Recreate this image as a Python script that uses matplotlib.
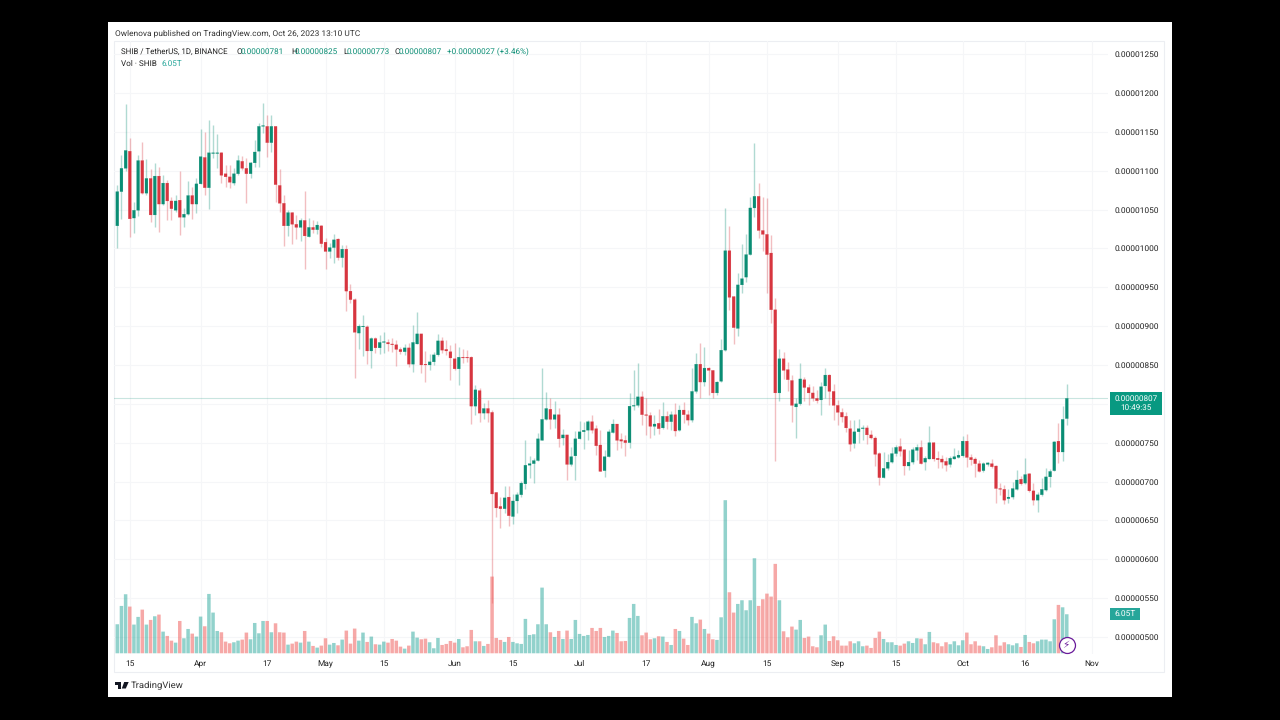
import pandas as pd
import numpy as np
import matplotlib
matplotlib.use("Agg")
import matplotlib.pyplot as plt
from matplotlib.patches import Rectangle, Polygon

plt.rcParams['font.family'] = ['Roboto', 'DejaVu Sans']
plt.rcParams['text.hinting'] = 'none'

# prices are in units of 0.00000001 USDT, volume in T
opens = [
    1029, 1073, 1103, 1125, 1039, 1049, 1113, 1071, 1090, 1043,
    1093, 1057, 1084, 1061, 1049, 1062, 1040, 1044, 1068, 1057,
    1083, 1117, 1078, 1122, 1122, 1123, 1096, 1092, 1084, 1096,
    1112, 1103, 1096, 1110, 1125, 1157, 1157, 1136, 1157, 1081,
    1058, 1029, 1046, 1031, 1027, 1036, 1015, 1027, 1024, 1029,
    1008, 996, 1001, 1012, 988, 999, 945, 934, 891, 899,
    899, 868, 884, 872, 879, 879, 877, 876, 870, 867,
    872, 851, 877, 890, 851, 850, 854, 863, 881, 870,
    867, 858, 845, 860, 860, 860, 797, 817, 788, 794,
    789, 686, 668, 665, 680, 655, 675, 683, 697, 721,
    723, 727, 753, 780, 793, 780, 786, 756, 760, 722,
    733, 755, 764, 766, 777, 768, 747, 714, 732, 763,
    774, 754, 753, 750, 797, 798, 809, 786, 785, 771,
    775, 769, 784, 777, 786, 766, 792, 786, 779, 816,
    851, 828, 846, 843, 814, 829, 869, 997, 938, 897,
    953, 963, 992, 1052, 1067, 1023, 1018, 994, 921, 814,
    858, 844, 830, 796, 800, 831, 821, 814, 807, 805,
    823, 837, 816, 798, 789, 784, 768, 749, 764, 768,
    769, 760, 756, 736, 705, 717, 725, 736, 745, 741,
    720, 725, 740, 744, 725, 729, 750, 730, 729, 726,
    722, 729, 731, 733, 752, 731, 729, 723, 714, 722,
    723, 720, 691, 690, 678, 680, 690, 703, 698, 710,
    688, 676, 683, 689, 706, 714, 752, 738, 781,
]
closes = [
    1073, 1103, 1126, 1038, 1049, 1113, 1071, 1090, 1043, 1093,
    1057, 1084, 1061, 1051, 1061, 1040, 1044, 1068, 1057, 1083,
    1118, 1078, 1123, 1123, 1123, 1094, 1092, 1085, 1096, 1113,
    1103, 1096, 1110, 1124, 1157, 1158, 1136, 1157, 1082, 1058,
    1029, 1046, 1031, 1027, 1036, 1016, 1027, 1024, 1030, 1006,
    996, 1001, 1011, 988, 999, 945, 934, 892, 900, 900,
    868, 884, 872, 879, 880, 877, 876, 870, 867, 872,
    851, 879, 890, 850, 850, 854, 863, 881, 869, 868,
    859, 845, 860, 859, 859, 797, 818, 788, 794, 788,
    684, 666, 665, 679, 656, 675, 683, 698, 721, 723,
    727, 755, 780, 794, 780, 786, 755, 760, 722, 732,
    755, 764, 766, 777, 766, 746, 713, 732, 764, 774,
    753, 752, 750, 797, 798, 809, 786, 785, 771, 774,
    768, 784, 777, 786, 765, 792, 786, 779, 816, 851,
    828, 846, 843, 814, 828, 869, 997, 937, 898, 953,
    961, 992, 1052, 1067, 1023, 1018, 992, 921, 814, 858,
    843, 831, 798, 800, 832, 821, 814, 807, 804, 822,
    837, 816, 798, 789, 783, 769, 748, 764, 768, 769,
    760, 756, 735, 705, 717, 725, 736, 744, 739, 720,
    725, 741, 744, 723, 730, 750, 729, 728, 725, 721,
    730, 732, 734, 752, 731, 728, 723, 713, 723, 724,
    719, 691, 690, 676, 680, 691, 702, 697, 709, 688,
    676, 683, 690, 706, 713, 751, 738, 780, 807,
]
highs = [
    1081, 1120, 1186, 1142, 1060, 1120, 1137, 1115, 1102, 1110,
    1105, 1094, 1088, 1066, 1069, 1099, 1052, 1087, 1079, 1090,
    1154, 1150, 1165, 1159, 1147, 1124, 1107, 1107, 1103, 1120,
    1119, 1116, 1111, 1139, 1161, 1187, 1172, 1172, 1157, 1102,
    1069, 1049, 1047, 1043, 1039, 1074, 1039, 1036, 1035, 1030,
    1013, 1007, 1019, 1013, 1004, 1004, 954, 936, 903, 914,
    901, 886, 886, 888, 892, 883, 885, 882, 873, 877,
    878, 901, 918, 890, 868, 864, 867, 890, 886, 882,
    876, 878, 873, 870, 869, 861, 824, 820, 801, 805,
    792, 687, 680, 694, 694, 684, 687, 701, 754, 733,
    730, 762, 846, 815, 808, 804, 794, 768, 760, 744,
    765, 778, 777, 779, 786, 773, 766, 741, 768, 780,
    774, 762, 760, 814, 844, 853, 817, 808, 790, 786,
    793, 802, 791, 791, 801, 798, 802, 792, 846, 865,
    878, 873, 847, 844, 829, 884, 1052, 1029, 939, 968,
    1005, 1018, 1066, 1135, 1084, 1066, 1065, 1017, 936, 870,
    867, 854, 837, 807, 853, 834, 826, 823, 818, 828,
    846, 838, 825, 805, 794, 790, 779, 779, 780, 773,
    773, 766, 758, 738, 738, 736, 745, 747, 756, 741,
    741, 745, 748, 753, 733, 771, 751, 739, 734, 731,
    733, 743, 741, 759, 761, 735, 731, 728, 725, 725,
    729, 721, 698, 696, 691, 700, 715, 707, 730, 711,
    698, 687, 704, 718, 716, 752, 775, 797, 825,
]
lows = [
    1001, 1038, 1100, 1015, 1020, 1041, 1070, 1069, 1034, 1028,
    1021, 1056, 1036, 1036, 1047, 1017, 1027, 1043, 1038, 1045,
    1083, 1069, 1051, 1116, 1103, 1084, 1079, 1078, 1081, 1094,
    1101, 1058, 1090, 1105, 1105, 1148, 1118, 1124, 1060, 1047,
    1003, 1016, 1006, 1012, 1009, 973, 1014, 1020, 1018, 1002,
    974, 987, 981, 985, 976, 919, 930, 833, 871, 861,
    851, 846, 866, 864, 865, 868, 867, 849, 864, 863,
    848, 841, 877, 839, 828, 843, 850, 861, 866, 863,
    831, 843, 824, 852, 854, 774, 786, 776, 781, 777,
    544, 654, 640, 659, 643, 646, 660, 680, 691, 704,
    698, 726, 753, 779, 767, 769, 744, 747, 702, 720,
    702, 755, 742, 753, 762, 734, 713, 706, 731, 762,
    740, 743, 733, 743, 792, 796, 773, 760, 756, 760,
    761, 768, 767, 766, 758, 765, 775, 773, 777, 814,
    808, 823, 811, 808, 811, 828, 868, 921, 877, 887,
    942, 957, 991, 1040, 1013, 997, 943, 904, 726, 804,
    832, 816, 776, 756, 798, 803, 798, 803, 801, 786,
    807, 798, 779, 773, 776, 764, 739, 743, 750, 754,
    748, 755, 720, 696, 704, 715, 724, 733, 733, 709,
    715, 723, 728, 723, 715, 729, 726, 717, 717, 713,
    719, 729, 730, 732, 719, 721, 706, 712, 712, 720,
    717, 673, 683, 671, 673, 678, 689, 696, 697, 687,
    670, 661, 681, 688, 693, 713, 724, 727, 773,
]
volumes = [
    4.50, 7.34, 9.15, 7.24, 4.45, 5.64, 6.77, 4.45, 5.17, 5.74,
    6.00, 3.36, 2.69, 1.96, 1.65, 5.01, 2.33, 3.77, 3.05, 2.59,
    5.69, 4.19, 9.20, 6.31, 3.46, 3.26, 1.81, 1.55, 1.71, 1.96,
    2.12, 3.21, 2.17, 4.70, 3.10, 5.01, 5.01, 3.26, 4.65, 3.26,
    3.21, 1.34, 1.50, 1.81, 1.65, 3.46, 1.81, 1.14, 0.88, 1.19,
    2.33, 1.34, 1.60, 1.24, 2.12, 3.52, 1.50, 3.83, 1.96, 3.21,
    1.76, 2.59, 1.40, 1.34, 1.81, 1.65, 2.22, 1.96, 1.03, 0.72,
    1.19, 3.36, 2.43, 2.17, 2.27, 1.71, 0.78, 2.38, 1.29, 1.45,
    1.91, 1.65, 2.22, 0.93, 1.09, 3.62, 1.86, 1.86, 1.14, 1.45,
    11.89, 2.38, 2.07, 1.76, 2.53, 1.76, 1.55, 1.45, 5.33, 2.84,
    2.95, 4.50, 10.18, 4.50, 3.26, 2.53, 3.46, 2.22, 3.52, 2.22,
    5.17, 3.00, 2.69, 2.84, 3.93, 3.46, 3.93, 2.53, 2.69, 3.52,
    3.15, 1.86, 1.91, 5.48, 7.65, 5.79, 2.79, 3.21, 2.17, 2.33,
    2.64, 2.59, 1.76, 1.29, 3.77, 3.46, 2.27, 1.29, 5.64, 4.65,
    5.22, 3.77, 3.05, 2.17, 2.07, 5.58, 23.73, 9.46, 6.31, 7.65,
    8.22, 6.67, 8.22, 14.73, 7.34, 8.38, 9.25, 8.79, 13.86, 8.22,
    3.41, 2.48, 4.14, 3.67, 5.17, 2.38, 2.59, 1.09, 0.93, 2.79,
    4.45, 1.91, 2.64, 2.02, 1.19, 1.19, 1.86, 1.55, 1.86, 1.09,
    1.19, 0.83, 2.38, 3.36, 2.22, 1.71, 1.71, 1.29, 1.19, 1.50,
    1.86, 1.60, 2.33, 2.27, 1.40, 3.31, 1.71, 1.55, 1.09, 1.71,
    1.40, 1.86, 1.24, 2.02, 3.21, 1.40, 1.86, 1.19, 1.09, 0.67,
    0.93, 2.79, 1.19, 1.71, 1.40, 1.24, 1.55, 0.98, 2.84, 1.76,
    1.55, 1.86, 2.12, 2.12, 1.86, 5.27, 7.50, 7.13, 6.05,
]

price_ticks = [500, 550, 600, 650, 700, 750, 800, 850, 900, 950,
               1000, 1050, 1100, 1150, 1200, 1250]
date_ticks = ["2023-03-15", "2023-04-01", "2023-04-17", "2023-05-01", "2023-05-15",
              "2023-06-01", "2023-06-15", "2023-07-01", "2023-07-17", "2023-08-01",
              "2023-08-15", "2023-09-01", "2023-09-15", "2023-10-01", "2023-10-16",
              "2023-11-01"]
date_labels = ["15", "Apr", "17", "May", "15", "Jun", "15", "Jul", "17", "Aug",
               "15", "Sep", "15", "Oct", "16", "Nov"]

GREEN = "#0a8d74"
RED = "#d7353f"
TEXT = "#222222"
W, H = 1280, 720


def fx(x):
    return x / W


def fy(y):
    return 1 - y / H


dates = pd.date_range("2023-03-12", periods=len(closes), freq="D")
days = np.arange(len(closes))
tick_pos = [(pd.Timestamp(d) - dates[0]).days for d in date_ticks]
up = np.array(closes) >= np.array(opens)
colors = np.where(up, GREEN, RED)

fig = plt.figure(figsize=(12.8, 7.2), dpi=100, facecolor="black")

# white page and the chart frame, behind the axes
fig.add_artist(Rectangle((fx(108), fy(697)), 1064 / W, 675 / H, transform=fig.transFigure,
                         facecolor="white", edgecolor="none", zorder=-2))
fig.add_artist(Rectangle((fx(114), fy(672)), 1050 / W, 631 / H, transform=fig.transFigure,
                         facecolor="none", edgecolor="#eceef2", lw=0.8, zorder=-1))

rect = [fx(114), fy(654), 994 / W, 613 / H]
ax = fig.add_axes(rect, facecolor="none", zorder=1)
ax_vol = fig.add_axes(rect, facecolor="none", zorder=3)

# price panel
ax.vlines(days, lows, highs, color=colors, lw=1.0, alpha=0.32, zorder=3)
bodies = ax.bar(days, np.abs(np.array(closes) - np.array(opens)), bottom=np.minimum(opens, closes),
                width=0.7, color=colors, linewidth=0.15, edgecolor=colors, zorder=4)
for b in bodies:
    b.set_snap(False)
ax.axhline(closes[-1], color=GREEN, lw=0.8, alpha=0.22, zorder=2)

ax.set_xlim(-0.79, 237.9)
ax.set_ylim(478.1, 1266.8)
ax.set_xticks(tick_pos)
ax.set_xticklabels(date_labels)
ax.set_yticks(price_ticks)
# the 800 label is covered by the last price badge in the reference
ax.set_yticklabels(["" if p == 800 else "%.8f" % (p * 1e-8) for p in price_ticks])
ax.yaxis.tick_right()
ax.tick_params(axis="both", length=0, labelsize=6.0, labelcolor=TEXT)
ax.tick_params(axis="x", pad=4.5)
ax.tick_params(axis="y", pad=5)
ax.grid(True, color="#f5f6f8", lw=0.8)
ax.set_axisbelow(True)
for s in ax.spines.values():
    s.set_visible(False)

# volume panel
vol_colors = np.where(up, "#26a69a", "#ef5350")
vol_bars = ax_vol.bar(days, volumes, width=0.84, color=vol_colors, alpha=0.5, linewidth=0)
for b in vol_bars:
    b.set_snap(False)
ax_vol.set_xlim(ax.get_xlim())
ax_vol.set_ylim(-0.11, 94.9)
ax_vol.axis("off")

# header
fig.text(fx(115), fy(35), "Owlenova published on TradingView.com, Oct 26, 2023 13:10 UTC",
         fontsize=6.03, color="#333333", va="baseline")
fig.text(fx(121), fy(54), "SHIB / TetherUS, 1D, BINANCE", fontsize=5.7, color=TEXT, va="baseline")
legend_parts = [(236.5, "O", TEXT), (241, "0.00000781", GREEN), (291, "H", TEXT),
                (295, "0.00000825", GREEN), (343, "L", TEXT), (347, "0.00000773", GREEN),
                (395, "C", TEXT), (399, "0.00000807", GREEN),
                (447, "+0.00000027 (+3.46%)", GREEN)]
for x, s, c in legend_parts:
    fig.text(fx(x), fy(54), s, fontsize=5.9, color=c, va="baseline")
fig.text(fx(121), fy(66), "Vol \u00b7 SHIB", fontsize=5.9, color=TEXT, va="baseline")
fig.text(fx(161), fy(66), "6.05T", fontsize=5.9, color="#26a69a", va="baseline")

# last price and volume badges
fig.add_artist(Rectangle((fx(1110), fy(415)), 52 / W, 23 / H, transform=fig.transFigure,
                         facecolor="#089981", edgecolor="none", zorder=5))
fig.text(fx(1136), fy(403.5), "0.00000807\n10:49:35", fontsize=5.9, color="white", ha="center",
         va="center", linespacing=1.25, zorder=6)
fig.add_artist(Rectangle((fx(1110), fy(620)), 30 / W, 12 / H, transform=fig.transFigure,
                         facecolor="#26a69a", edgecolor="none", zorder=5))
fig.text(fx(1125), fy(614), "6.05T", fontsize=6.0, color="white", ha="center", va="center", zorder=6)

# lightning badge on the last bar
ax_vol.plot([days[-1]], [1.24], marker="o", ms=11.5, mfc="white", mec="#6a1b9a", mew=0.9,
            zorder=6, clip_on=False)
fig.text(fx(1066), fy(645), "\u26a1", fontsize=7.5, color="#6a1b9a", ha="center", va="center",
         family=["DejaVu Sans"], zorder=10)

# TradingView logo
for pts in ([(115, 682), (121, 682), (121, 688.5), (118.3, 688.5), (118.3, 684.5), (115, 684.5)],
            [(124.2, 682), (128.7, 682), (125.8, 688.5), (121.8, 688.5)]):
    fig.add_artist(Polygon([(fx(a), fy(b)) for a, b in pts], closed=True, transform=fig.transFigure,
                           facecolor="#131722", edgecolor="none", zorder=5))
fig.text(fx(131), fy(685.3), "TradingView", fontsize=6.8, color="#333333", va="center")

fig.savefig("out.png", dpi=100, facecolor="black")
plt.close()
